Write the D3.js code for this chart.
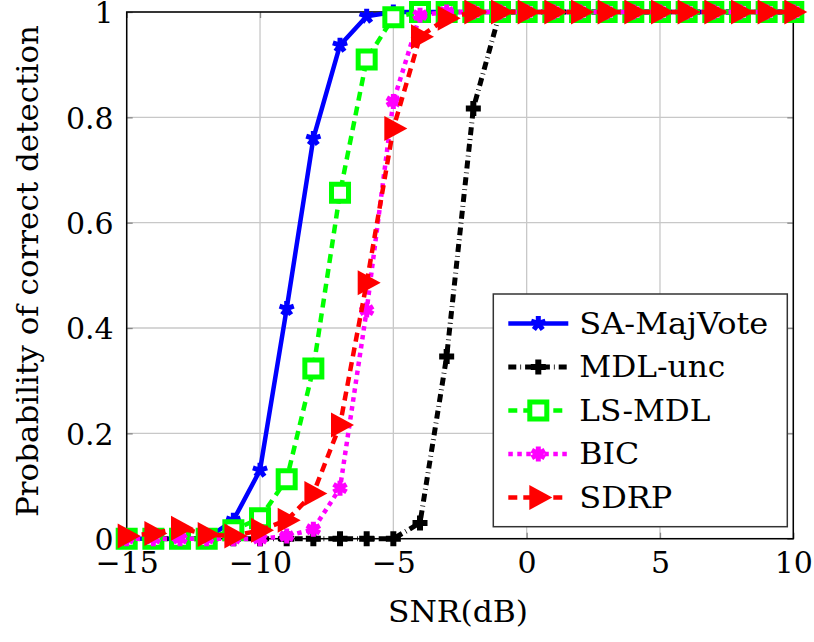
<!DOCTYPE html>
<html><head><meta charset="utf-8">
<script src="https://cdn.jsdelivr.net/npm/d3@7"></script>
<style>body{margin:0;background:#fff}svg{display:block}
text{font-family:"DejaVu Serif","Liberation Serif","Times New Roman",serif}</style>
</head><body>
<svg id="c" width="814" height="642"></svg>
<script>
const snr = [-15,-14,-13,-12,-11,-10,-9,-8,-7,-6,-5,-4,-3,-2,-1,0,1,2,3,4,5,6,7,8,9,10];
const saMajVote = [0,0,0,0,0.035,0.13,0.437,0.76,0.937,0.992,1,1,1,1,1,1,1,1,1,1,1,1,1,1,1,1];
const mdlUnc    = [0,0,0,0,0,0,0,0,0,0,0,0.03,0.346,0.817,1,1,1,1,1,1,1,1,1,1,1,1];
const lsMdl     = [0,0,0,0,0.016,0.039,0.113,0.323,0.657,0.91,0.99,1,1,1,1,1,1,1,1,1,1,1,1,1,1,1];
const bic       = [0,0,0,0,0,0,0.005,0.018,0.096,0.434,0.83,0.994,1,1,1,1,1,1,1,1,1,1,1,1,1,1];
const sdrp      = [0.005,0.01,0.02,0.008,0.005,0.016,0.035,0.086,0.216,0.486,0.779,0.953,0.988,1,1,1,1,1,1,1,1,1,1,1,1,1];
const seriesNames = ["SA-MajVote","MDL-unc","LS-MDL","BIC","SDRP"];
const xTicks = [-15,-10,-5,0,5,10];
const yTicks = [0,0.2,0.4,0.6,0.8,1];
const xLabel = "SNR(dB)";
const yLabel = "Probability of correct detection";

const svg = d3.select("#c");
const L = 126.7, R = 793.3, T = 12, B = 538.7;
const x = d3.scaleLinear().domain([-15,10]).range([L,R]);
const y = d3.scaleLinear().domain([0,1]).range([B,T]);
const FS = 30;

const g = svg.append("g");
g.selectAll(".gx").data(xTicks).join("line")
  .attr("x1", d=>x(d)).attr("x2", d=>x(d)).attr("y1", T).attr("y2", B)
  .attr("stroke", "#c8c8c8").attr("stroke-width", 1.3);
g.selectAll(".gy").data(yTicks).join("line")
  .attr("x1", L).attr("x2", R).attr("y1", d=>y(d)).attr("y2", d=>y(d))
  .attr("stroke", "#c8c8c8").attr("stroke-width", 1.3);

function styleAxis(sel){
  sel.attr("font-family", null).attr("font-size", FS);
  sel.select(".domain").remove();
  sel.selectAll(".tick line").attr("stroke","#888").attr("stroke-width",1.3);
  sel.selectAll(".tick text").attr("fill","#000");
}
const fmtX = d => d < 0 ? "\u2212" + Math.abs(d) : String(d);
const fmtY = d => d === 0 ? "0" : (d === 1 ? "1" : d3.format(".1f")(d));
svg.append("g").attr("transform",`translate(0,${B})`)
  .call(d3.axisBottom(x).tickValues(xTicks).tickFormat(fmtX).tickSizeInner(-6).tickSizeOuter(0).tickPadding(0))
  .call(styleAxis).call(s=>s.selectAll(".tick text").attr("dy",null).attr("y",34));
svg.append("g").attr("transform",`translate(0,${T})`)
  .call(d3.axisTop(x).tickValues(xTicks).tickFormat("").tickSizeInner(-6).tickSizeOuter(0))
  .call(styleAxis);
svg.append("g").attr("transform",`translate(${L},0)`)
  .call(d3.axisLeft(y).tickValues(yTicks).tickFormat(fmtY).tickSizeInner(-6).tickSizeOuter(0).tickPadding(0))
  .call(styleAxis).call(s=>s.selectAll(".tick text").attr("x",-13).attr("dy","0.36em"));
svg.append("g").attr("transform",`translate(${R},0)`)
  .call(d3.axisRight(y).tickValues(yTicks).tickFormat("").tickSizeInner(-6).tickSizeOuter(0))
  .call(styleAxis);

svg.append("rect").attr("x",L).attr("y",T).attr("width",R-L).attr("height",B-T)
  .attr("fill","none").attr("stroke","#000").attr("stroke-width",1.5);

function star5(r){ const p=d3.path(); for(let k=0;k<5;k++){const a=-Math.PI/2+k*2*Math.PI/5; p.moveTo(0,0); p.lineTo(r*Math.cos(a), r*Math.sin(a));} return p.toString(); }
function ast6(r){ const p=d3.path(); for(let k=0;k<3;k++){const a=Math.PI/2+k*Math.PI/3; p.moveTo(-r*Math.cos(a),-r*Math.sin(a)); p.lineTo(r*Math.cos(a), r*Math.sin(a));} return p.toString(); }
function plus(r){ return `M${-r},0L${r},0M0,${-r}L0,${r}`; }
function sq(s){ return `M${-s},${-s}L${s},${-s}L${s},${s}L${-s},${s}Z`; }
function tri(){ return "M-9,-12.5L-9,12.5L14,0Z"; }

const styles = [
  {data:saMajVote, color:"#0000ff", dash:null, width:4.5, mark:{d:star5(7.5), fill:"none", stroke:"#0000ff", sw:5}},
  {data:mdlUnc, color:"#000000", dash:"8,4,0.8,4", width:5, mark:{d:plus(7.5), fill:"none", stroke:"#000", sw:6}},
  {data:lsMdl, color:"#00ff00", dash:"9,6", width:4.5, mark:{d:sq(8.5), fill:"#fff", stroke:"#00ff00", sw:5}},
  {data:bic, color:"#ff00ff", dash:"4.5,4.5", width:4.5, mark:{d:ast6(7.5), fill:"none", stroke:"#ff00ff", sw:5}},
  {data:sdrp, color:"#ff0000", dash:"9,6", width:4.5, mark:{d:tri(), fill:"#ff0000", stroke:"none", sw:0}}
];

const line = d3.line().x(d=>x(d[0])).y(d=>y(d[1]));
styles.forEach(st=>{
  const pts = snr.map((s,i)=>[s, st.data[i]]);
  svg.append("path").attr("d", line(pts)).attr("fill","none")
    .attr("stroke", st.color).attr("stroke-width", st.width)
    .attr("stroke-dasharray", st.dash).attr("stroke-linejoin","round");
  svg.append("g").selectAll("path").data(pts).join("path")
    .attr("transform", d=>`translate(${x(d[0])},${y(d[1])})`)
    .attr("d", st.mark.d).attr("fill", st.mark.fill)
    .attr("stroke", st.mark.stroke).attr("stroke-width", st.mark.sw);
});

const legendWidths = [189, 146, 131, 60, 93];
const lg = svg.append("g");
lg.append("rect").attr("x",493.3).attr("y",294).attr("width",294).attr("height",232.7)
  .attr("fill","#fff").attr("stroke","#333").attr("stroke-width",1.5);
styles.forEach((st,i)=>{
  const yy = 323.5 + i*43.5;
  lg.append("line").attr("x1",508.3).attr("x2",568.3).attr("y1",yy).attr("y2",yy)
    .attr("stroke",st.color).attr("stroke-width",st.width).attr("stroke-dasharray",st.dash);
  lg.append("path").attr("transform",`translate(538.3,${yy})`).attr("d",st.mark.d)
    .attr("fill",st.mark.fill).attr("stroke",st.mark.stroke).attr("stroke-width",st.mark.sw);
  lg.append("text").attr("x",579.3).attr("y",yy+10).attr("font-size",FS)
    .attr("textLength",legendWidths[i]).attr("lengthAdjust","spacingAndGlyphs")
    .text(seriesNames[i]);
});

svg.append("text").attr("x",458).attr("y",622).attr("text-anchor","middle")
  .attr("font-size",FS)
  .attr("textLength",140).attr("lengthAdjust","spacingAndGlyphs").text(xLabel);
svg.append("text").attr("transform","translate(38,271) rotate(-90)").attr("text-anchor","middle")
  .attr("font-size",FS)
  .attr("textLength",492).attr("lengthAdjust","spacingAndGlyphs").text(yLabel);
</script>
</body></html>
